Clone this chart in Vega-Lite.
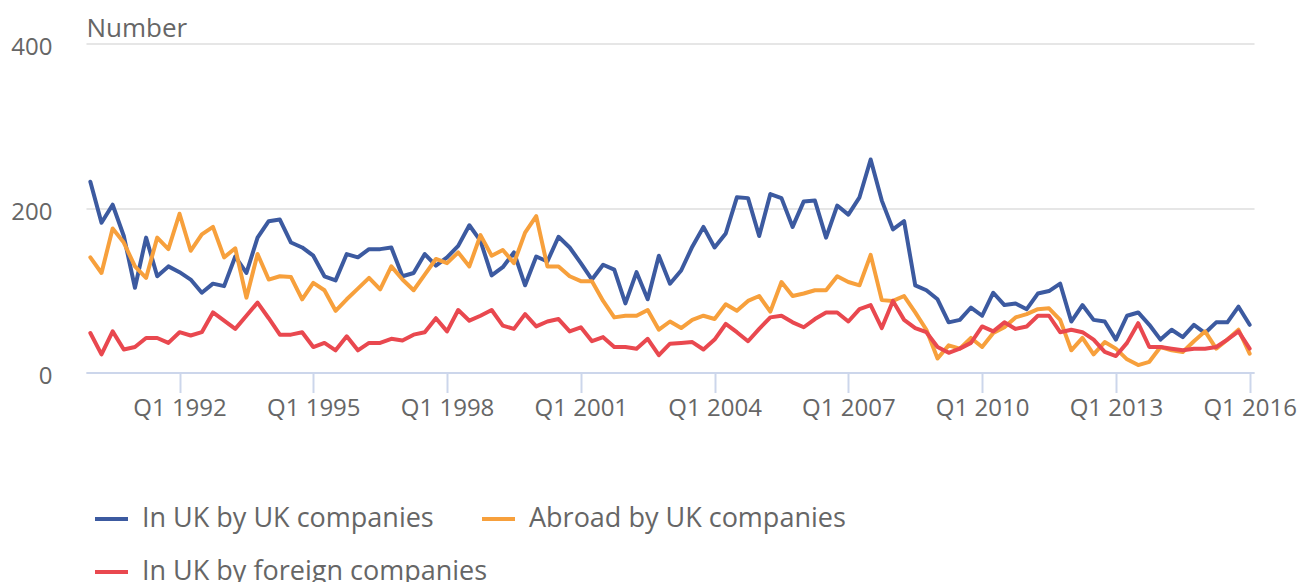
{
  "$schema": "https://vega.github.io/schema/vega-lite/v6.json",
  "width": 1168,
  "height": 329,
  "autosize": {"type": "none"},
  "padding": {"left": 86, "top": 43.5, "right": 46, "bottom": 209.5},
  "background": "white",
  "config": {"view": {"stroke": null}, "font": "Open Sans"},
  "data": {"values": [
    {"t": "Q1 1990", "In UK by UK companies": 232, "Abroad by UK companies": 140, "In UK by foreign companies": 48},
    {"t": "Q2 1990", "In UK by UK companies": 182, "Abroad by UK companies": 121, "In UK by foreign companies": 22},
    {"t": "Q3 1990", "In UK by UK companies": 204, "Abroad by UK companies": 175, "In UK by foreign companies": 50},
    {"t": "Q4 1990", "In UK by UK companies": 166, "Abroad by UK companies": 158, "In UK by foreign companies": 28},
    {"t": "Q1 1991", "In UK by UK companies": 103, "Abroad by UK companies": 129, "In UK by foreign companies": 31},
    {"t": "Q2 1991", "In UK by UK companies": 164, "Abroad by UK companies": 115, "In UK by foreign companies": 42},
    {"t": "Q3 1991", "In UK by UK companies": 117, "Abroad by UK companies": 164, "In UK by foreign companies": 42},
    {"t": "Q4 1991", "In UK by UK companies": 129, "Abroad by UK companies": 150, "In UK by foreign companies": 36},
    {"t": "Q1 1992", "In UK by UK companies": 122, "Abroad by UK companies": 193, "In UK by foreign companies": 49},
    {"t": "Q2 1992", "In UK by UK companies": 113, "Abroad by UK companies": 148, "In UK by foreign companies": 45},
    {"t": "Q3 1992", "In UK by UK companies": 97, "Abroad by UK companies": 168, "In UK by foreign companies": 49},
    {"t": "Q4 1992", "In UK by UK companies": 108, "Abroad by UK companies": 177, "In UK by foreign companies": 73},
    {"t": "Q1 1993", "In UK by UK companies": 105, "Abroad by UK companies": 140, "In UK by foreign companies": 63},
    {"t": "Q2 1993", "In UK by UK companies": 141, "Abroad by UK companies": 151, "In UK by foreign companies": 53},
    {"t": "Q3 1993", "In UK by UK companies": 121, "Abroad by UK companies": 91, "In UK by foreign companies": 69},
    {"t": "Q4 1993", "In UK by UK companies": 164, "Abroad by UK companies": 144, "In UK by foreign companies": 85},
    {"t": "Q1 1994", "In UK by UK companies": 184, "Abroad by UK companies": 113, "In UK by foreign companies": 66},
    {"t": "Q2 1994", "In UK by UK companies": 186, "Abroad by UK companies": 117, "In UK by foreign companies": 46},
    {"t": "Q3 1994", "In UK by UK companies": 158, "Abroad by UK companies": 116, "In UK by foreign companies": 46},
    {"t": "Q4 1994", "In UK by UK companies": 152, "Abroad by UK companies": 89, "In UK by foreign companies": 49},
    {"t": "Q1 1995", "In UK by UK companies": 142, "Abroad by UK companies": 109, "In UK by foreign companies": 31},
    {"t": "Q2 1995", "In UK by UK companies": 117, "Abroad by UK companies": 100, "In UK by foreign companies": 36},
    {"t": "Q3 1995", "In UK by UK companies": 112, "Abroad by UK companies": 75, "In UK by foreign companies": 27},
    {"t": "Q4 1995", "In UK by UK companies": 144, "Abroad by UK companies": 89, "In UK by foreign companies": 44},
    {"t": "Q1 1996", "In UK by UK companies": 140, "Abroad by UK companies": 102, "In UK by foreign companies": 27},
    {"t": "Q2 1996", "In UK by UK companies": 150, "Abroad by UK companies": 115, "In UK by foreign companies": 36},
    {"t": "Q3 1996", "In UK by UK companies": 150, "Abroad by UK companies": 101, "In UK by foreign companies": 36},
    {"t": "Q4 1996", "In UK by UK companies": 152, "Abroad by UK companies": 129, "In UK by foreign companies": 41},
    {"t": "Q1 1997", "In UK by UK companies": 117, "Abroad by UK companies": 113, "In UK by foreign companies": 39},
    {"t": "Q2 1997", "In UK by UK companies": 121, "Abroad by UK companies": 100, "In UK by foreign companies": 46},
    {"t": "Q3 1997", "In UK by UK companies": 144, "Abroad by UK companies": 119, "In UK by foreign companies": 49},
    {"t": "Q4 1997", "In UK by UK companies": 130, "Abroad by UK companies": 138, "In UK by foreign companies": 66},
    {"t": "Q1 1998", "In UK by UK companies": 140, "Abroad by UK companies": 133, "In UK by foreign companies": 50},
    {"t": "Q2 1998", "In UK by UK companies": 154, "Abroad by UK companies": 146, "In UK by foreign companies": 76},
    {"t": "Q3 1998", "In UK by UK companies": 179, "Abroad by UK companies": 129, "In UK by foreign companies": 63},
    {"t": "Q4 1998", "In UK by UK companies": 160, "Abroad by UK companies": 167, "In UK by foreign companies": 69},
    {"t": "Q1 1999", "In UK by UK companies": 118, "Abroad by UK companies": 142, "In UK by foreign companies": 76},
    {"t": "Q2 1999", "In UK by UK companies": 128, "Abroad by UK companies": 149, "In UK by foreign companies": 57},
    {"t": "Q3 1999", "In UK by UK companies": 146, "Abroad by UK companies": 133, "In UK by foreign companies": 53},
    {"t": "Q4 1999", "In UK by UK companies": 106, "Abroad by UK companies": 170, "In UK by foreign companies": 71},
    {"t": "Q1 2000", "In UK by UK companies": 141, "Abroad by UK companies": 190, "In UK by foreign companies": 56},
    {"t": "Q2 2000", "In UK by UK companies": 135, "Abroad by UK companies": 129, "In UK by foreign companies": 62},
    {"t": "Q3 2000", "In UK by UK companies": 165, "Abroad by UK companies": 129, "In UK by foreign companies": 65},
    {"t": "Q4 2000", "In UK by UK companies": 152, "Abroad by UK companies": 117, "In UK by foreign companies": 50},
    {"t": "Q1 2001", "In UK by UK companies": 133, "Abroad by UK companies": 111, "In UK by foreign companies": 55},
    {"t": "Q2 2001", "In UK by UK companies": 113, "Abroad by UK companies": 111, "In UK by foreign companies": 38},
    {"t": "Q3 2001", "In UK by UK companies": 131, "Abroad by UK companies": 87, "In UK by foreign companies": 43},
    {"t": "Q4 2001", "In UK by UK companies": 125, "Abroad by UK companies": 67, "In UK by foreign companies": 31},
    {"t": "Q1 2002", "In UK by UK companies": 84, "Abroad by UK companies": 69, "In UK by foreign companies": 31},
    {"t": "Q2 2002", "In UK by UK companies": 122, "Abroad by UK companies": 69, "In UK by foreign companies": 29},
    {"t": "Q3 2002", "In UK by UK companies": 89, "Abroad by UK companies": 76, "In UK by foreign companies": 41},
    {"t": "Q4 2002", "In UK by UK companies": 142, "Abroad by UK companies": 52, "In UK by foreign companies": 21},
    {"t": "Q1 2003", "In UK by UK companies": 108, "Abroad by UK companies": 62, "In UK by foreign companies": 35},
    {"t": "Q2 2003", "In UK by UK companies": 124, "Abroad by UK companies": 54, "In UK by foreign companies": 36},
    {"t": "Q3 2003", "In UK by UK companies": 153, "Abroad by UK companies": 64, "In UK by foreign companies": 37},
    {"t": "Q4 2003", "In UK by UK companies": 177, "Abroad by UK companies": 69, "In UK by foreign companies": 28},
    {"t": "Q1 2004", "In UK by UK companies": 152, "Abroad by UK companies": 65, "In UK by foreign companies": 40},
    {"t": "Q2 2004", "In UK by UK companies": 169, "Abroad by UK companies": 83, "In UK by foreign companies": 59},
    {"t": "Q3 2004", "In UK by UK companies": 213, "Abroad by UK companies": 75, "In UK by foreign companies": 49},
    {"t": "Q4 2004", "In UK by UK companies": 212, "Abroad by UK companies": 87, "In UK by foreign companies": 38},
    {"t": "Q1 2005", "In UK by UK companies": 166, "Abroad by UK companies": 93, "In UK by foreign companies": 53},
    {"t": "Q2 2005", "In UK by UK companies": 217, "Abroad by UK companies": 74, "In UK by foreign companies": 67},
    {"t": "Q3 2005", "In UK by UK companies": 212, "Abroad by UK companies": 110, "In UK by foreign companies": 69},
    {"t": "Q4 2005", "In UK by UK companies": 177, "Abroad by UK companies": 93, "In UK by foreign companies": 61},
    {"t": "Q1 2006", "In UK by UK companies": 208, "Abroad by UK companies": 96, "In UK by foreign companies": 55},
    {"t": "Q2 2006", "In UK by UK companies": 209, "Abroad by UK companies": 100, "In UK by foreign companies": 65},
    {"t": "Q3 2006", "In UK by UK companies": 164, "Abroad by UK companies": 100, "In UK by foreign companies": 73},
    {"t": "Q4 2006", "In UK by UK companies": 203, "Abroad by UK companies": 117, "In UK by foreign companies": 73},
    {"t": "Q1 2007", "In UK by UK companies": 192, "Abroad by UK companies": 110, "In UK by foreign companies": 62},
    {"t": "Q2 2007", "In UK by UK companies": 213, "Abroad by UK companies": 106, "In UK by foreign companies": 77},
    {"t": "Q3 2007", "In UK by UK companies": 259, "Abroad by UK companies": 143, "In UK by foreign companies": 82},
    {"t": "Q4 2007", "In UK by UK companies": 209, "Abroad by UK companies": 88, "In UK by foreign companies": 54},
    {"t": "Q1 2008", "In UK by UK companies": 174, "Abroad by UK companies": 87, "In UK by foreign companies": 87},
    {"t": "Q2 2008", "In UK by UK companies": 184, "Abroad by UK companies": 93, "In UK by foreign companies": 64},
    {"t": "Q3 2008", "In UK by UK companies": 106, "Abroad by UK companies": 73, "In UK by foreign companies": 54},
    {"t": "Q4 2008", "In UK by UK companies": 100, "Abroad by UK companies": 52, "In UK by foreign companies": 49},
    {"t": "Q1 2009", "In UK by UK companies": 89, "Abroad by UK companies": 17, "In UK by foreign companies": 31},
    {"t": "Q2 2009", "In UK by UK companies": 61, "Abroad by UK companies": 33, "In UK by foreign companies": 24},
    {"t": "Q3 2009", "In UK by UK companies": 64, "Abroad by UK companies": 29, "In UK by foreign companies": 29},
    {"t": "Q4 2009", "In UK by UK companies": 79, "Abroad by UK companies": 42, "In UK by foreign companies": 36},
    {"t": "Q1 2010", "In UK by UK companies": 69, "Abroad by UK companies": 31, "In UK by foreign companies": 56},
    {"t": "Q2 2010", "In UK by UK companies": 97, "Abroad by UK companies": 48, "In UK by foreign companies": 50},
    {"t": "Q3 2010", "In UK by UK companies": 82, "Abroad by UK companies": 55, "In UK by foreign companies": 61},
    {"t": "Q4 2010", "In UK by UK companies": 84, "Abroad by UK companies": 67, "In UK by foreign companies": 53},
    {"t": "Q1 2011", "In UK by UK companies": 77, "Abroad by UK companies": 71, "In UK by foreign companies": 56},
    {"t": "Q2 2011", "In UK by UK companies": 96, "Abroad by UK companies": 77, "In UK by foreign companies": 69},
    {"t": "Q3 2011", "In UK by UK companies": 99, "Abroad by UK companies": 78, "In UK by foreign companies": 69},
    {"t": "Q4 2011", "In UK by UK companies": 108, "Abroad by UK companies": 64, "In UK by foreign companies": 49},
    {"t": "Q1 2012", "In UK by UK companies": 62, "Abroad by UK companies": 27, "In UK by foreign companies": 52},
    {"t": "Q2 2012", "In UK by UK companies": 82, "Abroad by UK companies": 42, "In UK by foreign companies": 49},
    {"t": "Q3 2012", "In UK by UK companies": 64, "Abroad by UK companies": 22, "In UK by foreign companies": 40},
    {"t": "Q4 2012", "In UK by UK companies": 62, "Abroad by UK companies": 37, "In UK by foreign companies": 25},
    {"t": "Q1 2013", "In UK by UK companies": 40, "Abroad by UK companies": 29, "In UK by foreign companies": 20},
    {"t": "Q2 2013", "In UK by UK companies": 69, "Abroad by UK companies": 16, "In UK by foreign companies": 36},
    {"t": "Q3 2013", "In UK by UK companies": 73, "Abroad by UK companies": 9, "In UK by foreign companies": 60},
    {"t": "Q4 2013", "In UK by UK companies": 58, "Abroad by UK companies": 13, "In UK by foreign companies": 31},
    {"t": "Q1 2014", "In UK by UK companies": 40, "Abroad by UK companies": 31, "In UK by foreign companies": 31},
    {"t": "Q2 2014", "In UK by UK companies": 52, "Abroad by UK companies": 27, "In UK by foreign companies": 29},
    {"t": "Q3 2014", "In UK by UK companies": 43, "Abroad by UK companies": 25, "In UK by foreign companies": 27},
    {"t": "Q4 2014", "In UK by UK companies": 58, "Abroad by UK companies": 38, "In UK by foreign companies": 29},
    {"t": "Q1 2015", "In UK by UK companies": 48, "Abroad by UK companies": 50, "In UK by foreign companies": 29},
    {"t": "Q2 2015", "In UK by UK companies": 61, "Abroad by UK companies": 29, "In UK by foreign companies": 31},
    {"t": "Q3 2015", "In UK by UK companies": 61, "Abroad by UK companies": 40, "In UK by foreign companies": 40},
    {"t": "Q4 2015", "In UK by UK companies": 80, "Abroad by UK companies": 52, "In UK by foreign companies": 50},
    {"t": "Q1 2016", "In UK by UK companies": 58, "Abroad by UK companies": 23, "In UK by foreign companies": 29}
  ]},
  "transform": [
    {"fold": ["In UK by UK companies", "Abroad by UK companies", "In UK by foreign companies"], "as": ["series", "value"]}
  ],
  "mark": {"type": "line", "strokeWidth": 4, "strokeJoin": "round", "strokeCap": "round"},
  "encoding": {
    "x": {
      "field": "t", "type": "ordinal", "sort": null,
      "scale": {"type": "point", "padding": 0.39},
      "axis": {
        "values": ["Q1 1992", "Q1 1995", "Q1 1998", "Q1 2001", "Q1 2004", "Q1 2007", "Q1 2010", "Q1 2013", "Q1 2016"],
        "title": null, "labelAngle": 0, "labelFontSize": 24, "labelColor": "#666666",
        "labelFont": "Open Sans",
        "domainColor": "#ccd6eb", "domainWidth": 2, "tickColor": "#ccd6eb", "tickWidth": 2,
        "tickSize": 20, "labelPadding": 4, "grid": false
      }
    },
    "y": {
      "field": "value", "type": "quantitative",
      "scale": {"domain": [0, 400], "nice": false},
      "axis": {
        "values": [0, 200, 400], "title": "Number", "titleAngle": 0, "titleAlign": "left",
        "titleBaseline": "alphabetic", "titleX": 0, "titleY": -7, "titleFontSize": 26,
        "titleFontWeight": "normal", "titleColor": "#666666", "titleFont": "Open Sans",
        "labelFontSize": 24, "labelColor": "#666666", "labelFont": "Open Sans", "labelPadding": 34,
        "labelOffset": 4, "ticks": false, "domain": false, "gridColor": "#e6e6e6", "gridWidth": 2
      }
    },
    "color": {
      "field": "series", "type": "nominal",
      "scale": {
        "domain": ["In UK by UK companies", "Abroad by UK companies", "In UK by foreign companies"],
        "range": ["#3c5aa0", "#f7a03c", "#e9484f"]
      },
      "legend": {
        "orient": "none", "legendX": 7, "legendY": 457, "direction": "horizontal", "columns": 2,
        "gridAlign": "none", "title": null, "symbolType": "stroke", "symbolSize": 1089,
        "symbolStrokeWidth": 4, "labelFontSize": 27, "labelColor": "#666666", "labelFont": "Open Sans",
        "labelOffset": 12, "columnPadding": -14, "rowPadding": 21, "padding": 0, "labelLimit": 0
      }
    }
  }
}
